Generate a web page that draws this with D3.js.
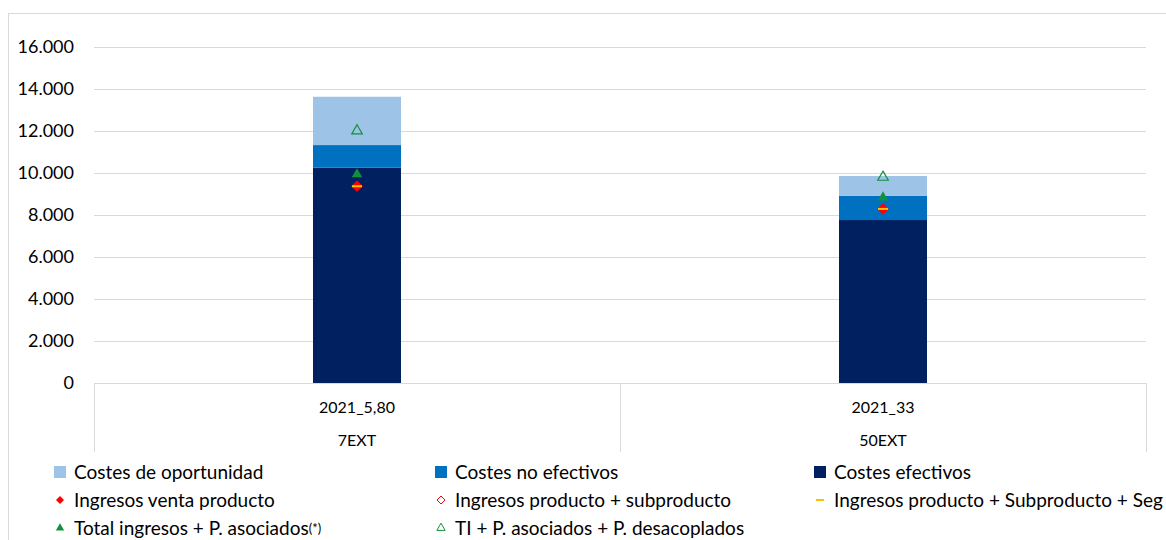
<!DOCTYPE html>
<html><head><meta charset="utf-8">
<script src="https://cdn.jsdelivr.net/npm/d3@7"></script>
<style>body{margin:0;background:#fff;} svg{display:block;font-family:Lato,"Open Sans",sans-serif;}</style>
</head><body><svg id="c" width="1166" height="540"></svg>
<script>
const categories = ["2021_5,80", "2021_33"];
const groups = ["7EXT", "50EXT"];
const costesEfectivos = [10250, 7760];
const costesNoEfectivos = [1080, 1160];
const costesOportunidad = [2300, 940];
const ingresosVenta = [9370, 8290];
const ingresosProdSub = [9370, 8290];
const ingresosProdSubSeg = [9370, 8290];
const totalIngresosPA = [9940, 8840];
const tiPAPD = [12010, 9800];
const yTicks = [0, 2000, 4000, 6000, 8000, 10000, 12000, 14000, 16000];

const svg = d3.select("#c");
const L = 94, R = 1146, T = 47, B = 383;
const x = d3.scaleBand().domain(categories).range([L, R]).paddingInner(0).paddingOuter(0);
const y = d3.scaleLinear().domain([0, 16000]).range([B, T]);
const fmt = v => d3.format(",")(v).replace(/,/g, ".");
const diamondPath = r => `M0,${-r}L${r},0L0,${r}L${-r},0Z`;

// chart border
svg.append("rect").attr("x", 8.5).attr("y", 13.5).attr("width", 1170).attr("height", 540)
  .attr("fill", "none").attr("stroke", "#d9d9d9");

// gridlines and y labels
svg.append("g").selectAll("line").data(yTicks.slice(1)).join("line")
  .attr("x1", L).attr("x2", R).attr("y1", d => Math.round(y(d)) + 0.5).attr("y2", d => Math.round(y(d)) + 0.5)
  .attr("stroke", "#d9d9d9").attr("stroke-width", 1);
svg.append("g").selectAll("text").data(yTicks).join("text")
  .attr("x", 74).attr("y", d => y(d)).attr("dy", "0.35em").attr("text-anchor", "end")
  .attr("font-size", 18).attr("fill", "#000").text(d => fmt(d));

// stacked bars
const stackData = categories.map((c, i) => ({cat: c, ef: costesEfectivos[i], ne: costesNoEfectivos[i], op: costesOportunidad[i]}));
const stack = d3.stack().keys(["ef", "ne", "op"])(stackData);
const colors = {ef: "#002060", ne: "#0070C0", op: "#9DC3E6"};
const bw = 88;
svg.append("g").selectAll("g").data(stack).join("g").attr("fill", d => colors[d.key])
  .selectAll("rect").data(d => d).join("rect")
  .attr("x", d => x(d.data.cat) + x.bandwidth() / 2 - bw / 2).attr("width", bw)
  .attr("y", d => y(d[1])).attr("height", d => y(d[0]) - y(d[1]));

// axis lines
const ax = svg.append("g").attr("stroke", "#d9d9d9").attr("stroke-width", 1);
ax.append("line").attr("x1", L).attr("x2", R).attr("y1", B + 0.5).attr("y2", B + 0.5);
[L, L + x.bandwidth(), R].forEach(v => ax.append("line").attr("x1", Math.round(v) + 0.5).attr("x2", Math.round(v) + 0.5).attr("y1", B).attr("y2", 452));
svg.append("g").selectAll("text").data(categories).join("text")
  .attr("x", d => x(d) + x.bandwidth() / 2).attr("y", 407).attr("dy", "0.35em")
  .attr("text-anchor", "middle").attr("font-size", 16).text(d => d);
svg.append("g").selectAll("text").data(groups).join("text")
  .attr("x", (d, i) => x(categories[i]) + x.bandwidth() / 2).attr("y", 440).attr("dy", "0.35em")
  .attr("text-anchor", "middle").attr("font-size", 16).text(d => d);

// markers
const cx = i => x(categories[i]) + x.bandwidth() / 2;
const green = "#11913f";
const tri = d3.symbol().type(d3.symbolTriangle).size(48);
const mg = svg.append("g");
mg.selectAll(".ti").data(tiPAPD).join("path").attr("transform", (d, i) => `translate(${cx(i)},${y(d)})`)
  .attr("d", tri).attr("fill", "none").attr("stroke", green).attr("stroke-width", 1.2);
mg.selectAll(".tot").data(totalIngresosPA).join("path").attr("transform", (d, i) => `translate(${cx(i)},${y(d)})`)
  .attr("d", tri).attr("fill", green);
mg.selectAll(".ips").data(ingresosProdSub).join("path").attr("transform", (d, i) => `translate(${cx(i)},${y(d)})`)
  .attr("d", diamondPath(5)).attr("fill", "none").attr("stroke", "#ff0000").attr("stroke-width", 1.2);
mg.selectAll(".iv").data(ingresosVenta).join("path").attr("transform", (d, i) => `translate(${cx(i)},${y(d)})`)
  .attr("d", diamondPath(5)).attr("fill", "#ff0000");
mg.selectAll(".iss").data(ingresosProdSubSeg).join("line")
  .attr("x1", (d, i) => cx(i) - 5).attr("x2", (d, i) => cx(i) + 5)
  .attr("y1", d => y(d)).attr("y2", d => y(d)).attr("stroke", "#FFC000").attr("stroke-width", 2);

// legend
const lg = svg.append("g").attr("font-size", 19).attr("fill", "#000");
const items = [
  {t: "Costes de oportunidad", k: "sq", c: "#9DC3E6", col: 0, row: 0},
  {t: "Costes no efectivos", k: "sq", c: "#0070C0", col: 1, row: 0},
  {t: "Costes efectivos", k: "sq", c: "#002060", col: 2, row: 0},
  {t: "Ingresos venta producto", k: "dia", c: "#ff0000", col: 0, row: 1},
  {t: "Ingresos producto + subproducto", k: "odia", c: "#ff0000", col: 1, row: 1},
  {t: "Ingresos producto + Subproducto + Seg", k: "dash", c: "#FFC000", col: 2, row: 1},
  {t: "Total ingresos + P. asociados", k: "tri", c: green, col: 0, row: 2, sup: "(*)"},
  {t: "TI + P. asociados + P. desacoplados", k: "otri", c: green, col: 1, row: 2}
];
const colX = [60, 441, 820], rowY = [472, 500, 528];
items.forEach(it => {
  const mx = colX[it.col], my = rowY[it.row];
  const g = lg.append("g");
  if (it.k === "sq") g.append("rect").attr("x", mx - 6).attr("y", my - 6).attr("width", 12).attr("height", 12).attr("fill", it.c);
  if (it.k === "dia") g.append("path").attr("transform", `translate(${mx},${my})`).attr("d", diamondPath(4)).attr("fill", it.c);
  if (it.k === "odia") g.append("path").attr("transform", `translate(${mx},${my})`).attr("d", diamondPath(4)).attr("fill", "none").attr("stroke", it.c).attr("stroke-width", 1);
  if (it.k === "dash") g.append("line").attr("x1", mx - 4).attr("x2", mx + 4).attr("y1", my).attr("y2", my).attr("stroke", it.c).attr("stroke-width", 2);
  if (it.k === "tri") g.append("path").attr("transform", `translate(${mx},${my})`).attr("d", d3.symbol().type(d3.symbolTriangle).size(30)).attr("fill", it.c);
  if (it.k === "otri") g.append("path").attr("transform", `translate(${mx},${my})`).attr("d", d3.symbol().type(d3.symbolTriangle).size(30)).attr("fill", "none").attr("stroke", it.c).attr("stroke-width", 1);
  const tx = g.append("text").attr("x", mx + 14).attr("y", my).attr("dy", "0.35em").text(it.t);
  if (it.sup) tx.append("tspan").attr("font-size", 13).attr("dy", "-0.15em").text(it.sup);
});
</script></body></html>
